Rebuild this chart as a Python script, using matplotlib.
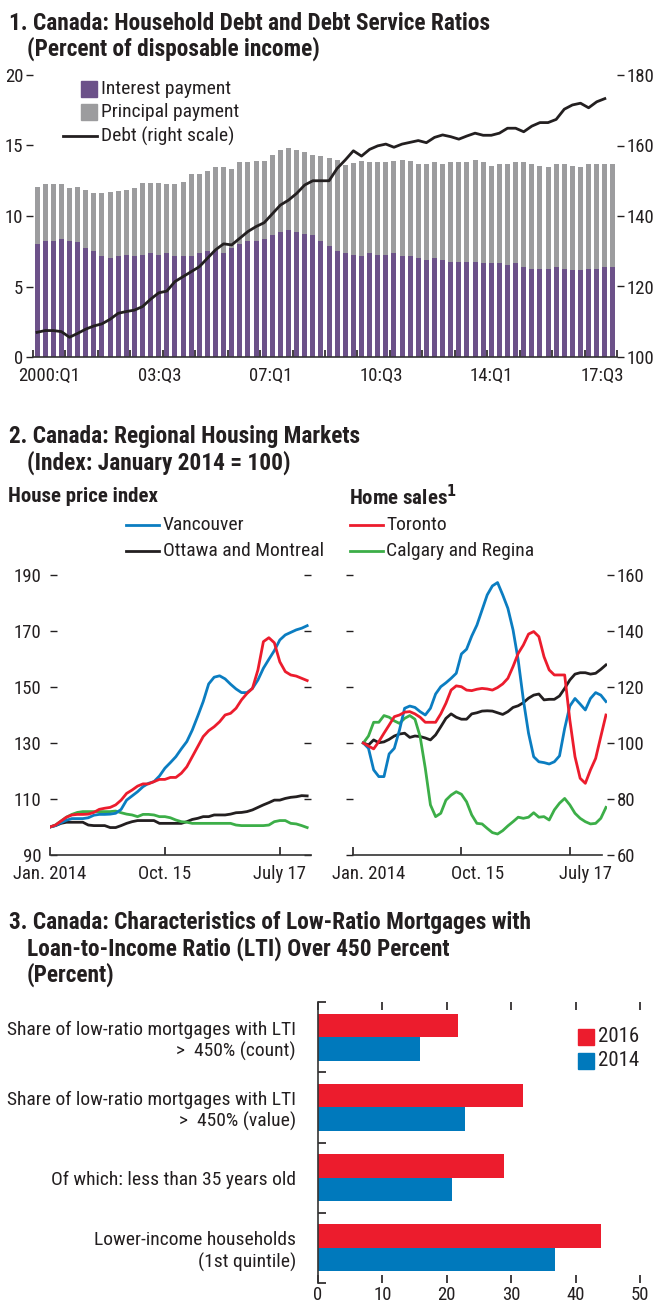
import numpy as np
import matplotlib
matplotlib.use('Agg')
import matplotlib.pyplot as plt
import matplotlib.transforms as mtransforms
from matplotlib import font_manager as fm
from matplotlib.patches import Rectangle
from matplotlib.lines import Line2D

# pick a condensed sans if one is installed
cond = {}
for f in fm.fontManager.ttflist:
    if f.stretch in ('condensed', 'semi-condensed', 'extra-condensed') or \
            'Narrow' in f.name or 'Condensed' in f.name:
        cond.setdefault(f.name, f.stretch)
FAMILY, STRETCH = 'Liberation Sans', 'normal'
for want in ['Liberation Sans Narrow', 'Roboto Condensed', 'Arial Narrow', 'Noto Sans Condensed',
             'Noto Sans', 'DejaVu Sans Condensed', 'DejaVu Sans', 'Open Sans Condensed', 'Open Sans']:
    if want in cond:
        FAMILY, STRETCH = want, cond[want]
        break
else:
    if cond:
        FAMILY, STRETCH = sorted(cond.items())[0]

plt.rcParams['font.family'] = [FAMILY, 'DejaVu Sans']
plt.rcParams['font.stretch'] = STRETCH
TXT = '#231f20'
plt.rcParams['text.color'] = TXT
plt.rcParams['xtick.color'] = TXT
plt.rcParams['ytick.color'] = TXT
plt.rcParams['axes.edgecolor'] = '#333333'

# ---------------- data ----------------
# Panel 1: quarterly 2000:Q1 - 2017:Q4, percent of disposable income
interest = [8.01, 8.23, 8.23, 8.37, 8.23, 8.13, 7.75, 7.52, 7.16, 7.04, 7.16, 7.23,
            7.16, 7.23, 7.35, 7.23, 7.35, 7.16, 7.16, 7.16, 7.35, 7.54, 7.59, 7.40,
            7.71, 8.01, 8.23, 8.23, 8.39, 8.63, 8.84, 9.01, 8.84, 8.72, 8.63, 8.23,
            7.87, 7.54, 7.40, 7.23, 7.16, 7.35, 7.23, 7.23, 7.35, 7.16, 7.16, 7.02,
            6.88, 7.00, 6.88, 6.76, 6.76, 6.76, 6.76, 6.64, 6.64, 6.64, 6.52, 6.64,
            6.41, 6.24, 6.24, 6.24, 6.36, 6.24, 6.17, 6.17, 6.24, 6.24, 6.41, 6.41]
principal = [4.07, 4.02, 4.02, 3.88, 3.73, 3.95, 4.09, 4.09, 4.45, 4.69, 4.61, 4.61,
             4.80, 5.09, 5.01, 5.13, 4.90, 5.09, 5.27, 5.80, 5.61, 5.68, 5.86, 6.05,
             5.60, 5.82, 5.60, 5.69, 5.53, 5.70, 5.84, 5.79, 5.84, 5.84, 5.70, 6.03,
             6.22, 6.43, 6.22, 6.50, 6.76, 6.50, 6.60, 6.60, 6.55, 6.81, 6.76, 6.67,
             6.81, 6.85, 6.81, 7.09, 7.09, 7.09, 7.21, 7.21, 6.91, 7.05, 7.17, 7.21,
             7.44, 7.45, 7.31, 7.21, 7.33, 7.45, 7.38, 7.28, 7.45, 7.45, 7.28, 7.28]
debt = [107.0, 107.5, 107.5, 107.2, 105.6, 106.7, 107.9, 108.8, 109.4, 110.7, 112.4, 112.9,
        113.3, 114.3, 116.4, 118.2, 118.7, 121.4, 122.8, 124.2, 125.6, 128.0, 130.4, 132.1,
        131.8, 133.7, 135.6, 137.0, 138.1, 140.6, 143.1, 144.5, 146.4, 148.8, 150.0, 150.0,
        150.0, 153.5, 155.9, 158.5, 157.0, 158.9, 159.9, 160.4, 159.5, 160.4, 160.9, 161.4,
        160.8, 162.3, 163.0, 162.5, 161.8, 162.7, 163.5, 162.9, 162.9, 163.5, 164.9, 164.9,
        163.9, 165.5, 166.5, 166.5, 167.4, 170.3, 171.5, 172.0, 170.7, 172.4, 173.3]
q_labels = ['2000:Q1', '03:Q3', '07:Q1', '10:Q3', '14:Q1', '17:Q3']

# Panel 2: monthly index, January 2014 = 100
hp_vancouver = [100.0, 100.5, 101.5, 102.4, 103.0, 103.0, 103.0, 103.3, 104.2, 104.5, 104.5, 104.6,
                104.9, 106.3, 109.6, 111.1, 112.6, 114.4, 115.6, 116.2, 118.2, 121.0, 123.0, 125.1,
                127.9, 130.5, 134.6, 139.6, 144.8, 151.1, 153.5, 154.0, 152.9, 151.0, 149.3, 148.0,
                148.0, 149.5, 152.5, 156.7, 159.9, 163.0, 166.8, 168.6, 169.5, 170.4, 171.0, 171.9]
hp_toronto = [100.0, 100.7, 102.1, 103.5, 104.3, 104.5, 104.5, 104.6, 105.2, 106.3, 106.7, 107.0,
              107.9, 109.6, 112.0, 113.2, 114.6, 115.4, 115.4, 116.2, 117.0, 117.0, 117.7, 117.7,
              119.2, 121.5, 125.1, 128.7, 132.3, 134.4, 135.8, 137.6, 140.0, 140.6, 142.4, 145.4,
              147.7, 149.5, 156.1, 166.2, 167.6, 165.8, 159.0, 155.5, 154.3, 153.9, 153.1, 152.3]
hp_ottawa = [100.0, 100.5, 101.3, 101.7, 101.7, 101.7, 101.7, 100.7, 100.5, 100.5, 100.5, 99.8,
             99.8, 100.5, 101.3, 101.9, 102.3, 102.3, 102.3, 102.3, 101.3, 101.3, 101.3, 101.3,
             101.3, 101.9, 102.7, 103.1, 103.7, 103.7, 104.3, 104.3, 104.3, 104.6, 105.1, 105.2,
             105.5, 106.1, 107.0, 107.9, 108.7, 109.6, 109.6, 110.2, 110.6, 110.8, 111.2, 111.1]
hp_calgary = [100.0, 100.7, 102.1, 103.5, 104.5, 105.2, 105.5, 105.5, 105.5, 105.5, 105.5, 105.5,
              105.7, 105.1, 104.6, 104.3, 103.7, 104.5, 104.5, 104.3, 103.7, 103.7, 103.3, 102.5,
              101.9, 101.7, 101.3, 101.3, 101.3, 101.3, 101.3, 101.3, 101.3, 101.3, 100.7, 100.5,
              100.5, 100.5, 100.5, 100.5, 100.7, 101.9, 102.3, 102.3, 101.3, 101.1, 100.5, 99.8]

hs_vancouver = [100.0, 98.1, 90.4, 88.0, 88.0, 96.1, 98.1, 104.6, 112.4, 113.2, 112.7, 111.2,
                110.0, 112.4, 117.5, 120.1, 121.5, 123.1, 124.9, 131.8, 133.5, 138.2, 142.1, 147.5,
                152.9, 156.1, 157.3, 152.9, 148.1, 140.4, 129.6, 115.4, 103.5, 95.1, 93.3, 93.0,
                92.5, 93.3, 95.4, 105.2, 113.2, 115.9, 113.9, 111.8, 115.9, 118.0, 117.1, 114.8]
hs_toronto = [100.0, 98.9, 97.9, 100.5, 103.5, 106.4, 109.4, 110.0, 111.0, 111.2, 110.4, 109.2,
              107.4, 107.4, 107.4, 110.4, 114.2, 118.9, 120.4, 120.1, 118.9, 118.7, 119.2, 119.5,
              119.3, 118.9, 119.8, 121.1, 123.1, 127.3, 132.0, 135.0, 138.9, 139.8, 138.0, 130.8,
              126.1, 124.3, 124.3, 124.3, 108.2, 95.1, 87.4, 85.6, 90.4, 94.5, 102.3, 110.0]
hs_ottawa = [100.0, 99.3, 101.1, 100.1, 100.4, 101.3, 102.5, 103.2, 103.5, 102.0, 102.5, 102.3,
             101.8, 101.1, 102.9, 105.8, 108.8, 110.4, 109.2, 108.5, 108.5, 110.4, 110.8, 111.4,
             111.5, 111.4, 110.8, 110.2, 111.2, 112.7, 113.3, 114.4, 116.0, 117.1, 117.5, 115.4,
             115.6, 115.6, 116.8, 119.5, 122.5, 124.6, 125.1, 125.1, 124.6, 124.9, 126.3, 127.9]
hs_calgary = [100.0, 102.5, 107.4, 107.4, 109.8, 109.2, 107.9, 107.0, 108.8, 109.8, 108.5, 102.3,
              91.0, 77.9, 73.7, 74.9, 79.6, 81.4, 82.6, 81.7, 79.0, 74.3, 71.3, 71.1,
              69.5, 68.0, 67.5, 68.7, 70.4, 71.9, 73.5, 73.1, 73.5, 75.1, 73.5, 73.7,
              72.5, 76.1, 78.5, 80.2, 77.9, 74.9, 73.1, 71.9, 71.1, 71.3, 73.1, 77.0]
m_labels = ['Jan. 2014', 'Oct. 15', 'July 17']
m_ticks = [0, 21, 42]
sales_start = 2   # home-sales series begins two months into the axis

# Panel 3: percent
categories = ['Share of low-ratio mortgages with LTI\n>  450% (count)',
              'Share of low-ratio mortgages with LTI\n>  450% (value)',
              'Of which: less than 35 years old',
              'Lower-income households\n(1st quintile)']
years = ['2016', '2014']
v2016 = [21.8, 31.9, 28.9, 44.0]
v2014 = [15.9, 22.8, 20.8, 36.8]

# ---------------- figure ----------------
W, H = 657, 1302
fig = plt.figure(figsize=(W / 100, H / 100), dpi=100)
fig.patch.set_facecolor('white')
# pixel transform, origin top-left
PX = mtransforms.Affine2D().scale(1 / W, -1 / H).translate(0, 1) + fig.transFigure


def ax_at(l, t, r, b):
    return fig.add_axes([l / W, 1 - b / H, (r - l) / W, (b - t) / H])


def txt(x, y, s, **kw):
    kw.setdefault('va', 'center')
    kw.setdefault('fontsize', FS)
    fig.text(x, y, s, transform=PX, **kw)


FS = 14        # legend / body text
TK = 13.5      # tick labels
TFS = 16.8     # panel titles
SFS = 15       # sub headers
PURPLE, GREY = '#6c5189', '#9c9c9e'
BLUE, RED, GREEN, BLACK = '#0b7dc1', '#ec1c2d', '#3cae48', '#231f20'
BAR_BLUE = '#0079bc'

# ===== Panel 1 =====
txt(9, 23, '1. Canada: Household Debt and Debt Service Ratios', fontsize=TFS, fontweight='bold')
txt(27, 49, '(Percent of disposable income)', fontsize=TFS, fontweight='bold')

ax1 = ax_at(33, 75, 617, 357)
qx = np.arange(len(interest))
ax1.bar(qx, interest, width=0.62, color=PURPLE, zorder=2)
ax1.bar(qx, principal, bottom=interest, width=0.62, color=GREY, zorder=2)
ax1.set_xlim(-0.5, 71.5)
ax1.set_ylim(0, 20)
ax1.set_yticks(range(0, 21, 5))
for s in ['top', 'left', 'right']:
    ax1.spines[s].set_visible(False)
ax1.spines['bottom'].set_linewidth(1.2)
ax1.tick_params(axis='y', direction='out', length=5, width=1, labelsize=TK, pad=2)
ax1.set_xticks(np.arange(-0.5, 72, 4), minor=True)
ax1.tick_params(axis='x', which='minor', direction='in', length=5, width=1.2)
ax1.set_xticks(np.linspace(1.5, 69.7, len(q_labels)))
ax1.set_xticklabels(q_labels)
ax1.tick_params(axis='x', which='major', length=0, labelsize=TK, pad=7)

ax1r = ax1.twinx()
ax1r.plot(np.arange(len(debt)), debt, color=BLACK, lw=2, zorder=3)
ax1r.set_ylim(100, 180)
ax1r.set_yticks(range(100, 181, 20))
for s in ['top', 'left', 'right', 'bottom']:
    ax1r.spines[s].set_visible(False)
ax1r.tick_params(axis='y', direction='out', length=5, width=1, labelsize=TK, pad=2)

# legend
fig.patches.append(Rectangle((81, 81), 16, 16, transform=PX, color=PURPLE))
fig.patches.append(Rectangle((81, 104), 16, 16, transform=PX, color=GREY))
fig.lines.append(Line2D([63, 97], [136, 136], transform=PX, color=BLACK, lw=2))
txt(101, 89, 'Interest payment')
txt(101, 112, 'Principal payment')
txt(101, 136, 'Debt (right scale)')

# ===== Panel 2 =====
txt(9, 437, '2. Canada: Regional Housing Markets', fontsize=TFS, fontweight='bold')
txt(27, 463, '(Index: January 2014 = 100)', fontsize=TFS, fontweight='bold')
txt(8, 497, 'House price index', fontsize=SFS, fontweight='bold')
txt(349, 497, r'Home sales$^{\mathbf{1}}$', fontsize=SFS, fontweight='bold')

fig.lines.append(Line2D([126, 159], [525, 525], transform=PX, color=BLUE, lw=2))
fig.lines.append(Line2D([126, 159], [551, 551], transform=PX, color=BLACK, lw=2))
fig.lines.append(Line2D([350, 383], [525, 525], transform=PX, color=RED, lw=2))
fig.lines.append(Line2D([350, 383], [551, 551], transform=PX, color=GREEN, lw=2))
txt(163, 525, 'Vancouver')
txt(163, 551, 'Ottawa and Montreal')
txt(386, 525, 'Toronto')
txt(386, 551, 'Calgary and Regina')

axL = ax_at(50, 575, 311, 855)
mx = np.arange(len(hp_vancouver))
axL.plot(mx, hp_ottawa, color=BLACK, lw=2)
axL.plot(mx, hp_calgary, color=GREEN, lw=2)
axL.plot(mx, hp_vancouver, color=BLUE, lw=2)
axL.plot(mx, hp_toronto, color=RED, lw=2)
axL.set_xlim(0, 47.7)
axL.set_ylim(90, 190)
axL.set_yticks(range(90, 191, 20))
axL.tick_params(axis='y', direction='in', length=5, width=1, labelsize=TK, pad=6,
                right=True, labelright=False)

axR = ax_at(353, 575, 607, 855)
sx = np.arange(len(hs_vancouver)) + sales_start
axR.plot(sx, hs_ottawa, color=BLACK, lw=2)
axR.plot(sx, hs_calgary, color=GREEN, lw=2)
axR.plot(sx, hs_vancouver, color=BLUE, lw=2)
axR.plot(sx, hs_toronto, color=RED, lw=2)
axR.set_xlim(0, 49.2)
axR.set_ylim(60, 160)
axR.set_yticks(range(60, 161, 20))
axR.yaxis.tick_right()
axR.tick_params(axis='y', direction='out', length=5, width=1, labelsize=TK,
                pad=2, left=True, labelleft=False)
axR.spines['bottom'].set_bounds(0, 48.2)

for ax in (axL, axR):
    for s in ['top', 'left', 'right']:
        ax.spines[s].set_visible(False)
    ax.spines['bottom'].set_linewidth(1.2)
    ax.set_xticks(m_ticks)
    ax.set_xticklabels(m_labels)
    ax.tick_params(axis='x', direction='in', length=6, width=1.2, labelsize=TK, pad=7)
# home-sales date labels sit a little right of their ticks
shift = mtransforms.ScaledTranslation(16 / 100, 0, fig.dpi_scale_trans)
for lab in axR.get_xticklabels():
    lab.set_transform(lab.get_transform() + shift)

# ===== Panel 3 =====
txt(9, 923, '3. Canada: Characteristics of Low-Ratio Mortgages with', fontsize=TFS, fontweight='bold')
txt(27, 949, 'Loan-to-Income Ratio (LTI) Over 450 Percent', fontsize=TFS, fontweight='bold')
txt(27, 975, '(Percent)', fontsize=TFS, fontweight='bold')

ax3 = ax_at(318, 1002, 640, 1283)
cy = np.arange(len(categories))
bh = 0.335
ax3.barh(cy - bh / 2, v2016, height=bh, color=RED)
ax3.barh(cy + bh / 2, v2014, height=bh, color=BAR_BLUE)
ax3.set_ylim(len(categories) - 0.5, -0.5)
ax3.set_xlim(0, 50)
ax3.set_xticks(range(0, 51, 10))
ax3.tick_params(axis='x', direction='in', length=6, width=1.2, labelsize=TK, pad=2,
                top=True)
ax3.set_yticks(cy)
ax3.set_yticklabels(categories, ha='right', linespacing=1.2)
ax3.tick_params(axis='y', which='major', length=0, labelsize=FS, pad=16)
ax3.set_yticks(np.arange(-0.5, len(categories), 1), minor=True)
ax3.tick_params(axis='y', which='minor', direction='in', length=6, width=1.2)
for s in ['top', 'bottom', 'right']:
    ax3.spines[s].set_visible(False)
ax3.spines['left'].set_linewidth(1.2)

# legend
fig.patches.append(Rectangle((578, 1029), 16, 16, transform=PX, color=RED))
fig.patches.append(Rectangle((578, 1053), 16, 16, transform=PX, color=BAR_BLUE))
txt(598, 1037, years[0], fontsize=15)
txt(598, 1061, years[1], fontsize=15)

fig.savefig('out.png', dpi=100, facecolor='white')
